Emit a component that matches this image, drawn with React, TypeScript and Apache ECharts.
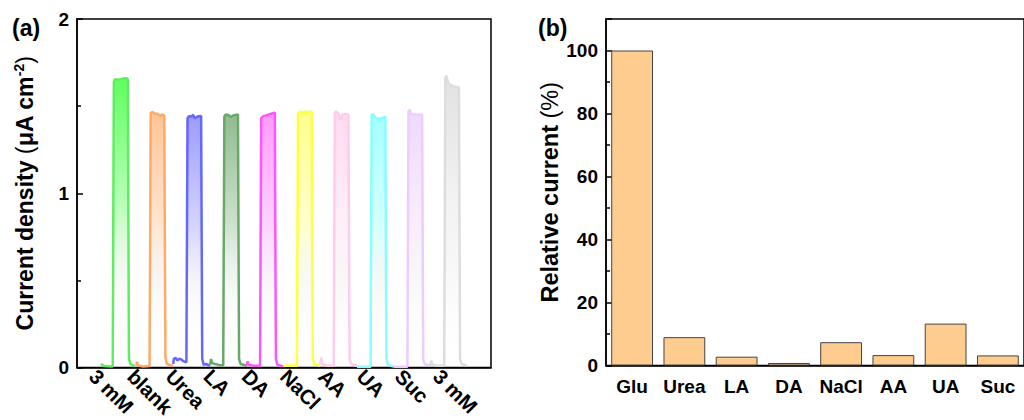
import React, { useEffect, useRef } from "react";
import * as echarts from "echarts";

const FONT = 'Arial, "Liberation Sans", Helvetica, sans-serif';

// Panel (a): amperometric traces, [time (s), current density (uA cm^-2)]
const traceNames = ["3 mM", "blank", "Urea", "LA", "DA", "NaCl", "AA", "UA", "Suc", "3 mM (2)"];
const traceLabels = ["3 mM", "blank", "Urea", "LA", "DA", "NaCl", "AA", "UA", "Suc", "3 mM"];
const traceLineColors = ["#5fee5f", "#ffaa66", "#6666ff", "#66aa66", "#ff55ff", "#ffff44", "#ffccec", "#88ffff", "#eeccff", "#dddddd"];
const traceFillColors = ["#11ff11", "#ffa860", "#6a6aff", "#5a9a5a", "#ff66ff", "#ffff55", "#ffc8ea", "#77ffff", "#e8c4ff", "#d4d4d4"];

const trace1 = [[64,0.015],[68,0.018],[72,0.008],[96,0.006],[97,0.01],[100,1.64],[104,1.655],[115,1.652],[125,1.658],[135,1.66],[138,1.655],[141,0.05],[145,0.02],[157,0.008]];
const trace2 = [[161,0.01],[163,0.033],[166,0.012],[180,0.006],[197,0.008],[200,1.46],[204,1.466],[212,1.458],[220,1.455],[226,1.44],[230,1.452],[237,1.445],[240,0.06],[244,0.02],[261,0.008]];
const trace3 = [[261,0.02],[263,0.05],[268,0.056],[272,0.04],[278,0.05],[284,0.045],[290,0.035],[297,0.03],[300,1.43],[304,1.442],[310,1.44],[315,1.45],[320,1.43],[327,1.44],[337,1.443],[340,0.05],[344,0.015],[350,0.02],[361,0.01]];
const trace4 = [[361,0.012],[364,0.049],[367,0.025],[375,0.02],[385,0.015],[397,0.012],[400,1.44],[404,1.452],[412,1.448],[418,1.437],[424,1.447],[437,1.452],[440,0.05],[444,0.02],[461,0.01]];
const trace5 = [[461,0.012],[463,0.035],[466,0.015],[480,0.01],[497,0.01],[500,1.43],[504,1.44],[515,1.448],[525,1.455],[537,1.463],[540,0.05],[544,0.015],[560,0.008]];
const trace6 = [[560,0.008],[575,0.012],[597,0.01],[600,1.46],[605,1.47],[612,1.462],[620,1.468],[630,1.465],[637,1.47],[640,0.05],[644,0.02],[660,0.01]];
const trace7 = [[660,0.015],[663,0.056],[666,0.02],[680,0.01],[697,0.01],[700,1.46],[704,1.47],[710,1.455],[716,1.42],[720,1.45],[730,1.455],[737,1.45],[740,0.05],[744,0.02],[760,0.01]];
const trace8 = [[760,0.005],[780,0.005],[797,0.005],[800,1.45],[804,1.455],[810,1.435],[818,1.425],[826,1.43],[837,1.44],[840,0.05],[844,0.015],[859,0.005]];
const trace9 = [[859,0.005],[880,0.005],[897,0.005],[900,1.47],[903,1.48],[907,1.455],[920,1.452],[937,1.45],[940,0.05],[944,0.02],[959,0.01]];
const trace10 = [[959,0.01],[962,0.04],[965,0.015],[980,0.01],[997,0.01],[1000,1.66],[1003,1.674],[1008,1.63],[1020,1.615],[1037,1.605],[1040,0.05],[1044,0.02],[1059,0.01]];
const traces = [trace1, trace2, trace3, trace4, trace5, trace6, trace7, trace8, trace9, trace10];

// Panel (b): relative current (%)
const barCategories = ["Glu", "Urea", "LA", "DA", "NaCl", "AA", "UA", "Suc"];
const barValues = [100, 9.0, 2.8, 0.8, 7.4, 3.3, 13.3, 3.2];

function hexToRgba(hex: string, a: number) {
  const n = parseInt(hex.slice(1), 16);
  return `rgba(${(n >> 16) & 255},${(n >> 8) & 255},${n & 255},${a})`;
}

export default function App() {
  const ref = useRef<HTMLDivElement>(null);
  useEffect(() => {
    if (!ref.current) return;
    const chart = echarts.init(ref.current, null, { renderer: "svg" });
    const axisLine = { show: true, lineStyle: { color: "#000", width: 1.5 } };
    const tickLabel = { color: "#000", fontSize: 19, fontWeight: "bold" as const, fontFamily: FONT };

    const lineSeries = traces.map((d, i) => ({
      type: "line",
      name: traceNames[i],
      xAxisIndex: 0,
      yAxisIndex: 0,
      data: d,
      showSymbol: false,
      symbol: "none",
      lineStyle: { color: traceLineColors[i], width: 2.5 },
      areaStyle: {
        origin: "start",
        color: new echarts.graphic.LinearGradient(0, 0, 0, 1, [
          { offset: 0, color: hexToRgba(traceFillColors[i], 0.95) },
          { offset: 0.45, color: hexToRgba(traceFillColors[i], 0.4) },
          { offset: 0.72, color: "rgba(200,200,200,0.14)" },
          { offset: 1, color: "rgba(255,255,255,0)" },
        ]),
      },
      z: 3,
    }));

    chart.setOption({
      animation: false,
      backgroundColor: "#fff",
      grid: [
        { left: 77, top: 19, width: 414, height: 348.5, show: true, borderColor: "#000", borderWidth: 1.5, containLabel: false },
        { left: 606, top: 19, width: 427, height: 346.5, show: true, borderColor: "#000", borderWidth: 1.5, containLabel: false },
        { left: 93, top: 19, width: 344, height: 348.5, show: false, containLabel: false },
      ],
      xAxis: [
        {
          type: "value", gridIndex: 0, min: 0, max: 1124,
          axisLine, axisTick: { show: false }, axisLabel: { show: false }, splitLine: { show: false },
        },
        {
          type: "category", gridIndex: 1, data: barCategories, boundaryGap: true,
          axisLine, axisTick: { show: false }, splitLine: { show: false },
          axisLabel: { ...tickLabel, margin: 11, interval: 0 },
        },
        {
          type: "category", gridIndex: 2, data: traceLabels, boundaryGap: false,
          axisLine: { show: false }, axisTick: { show: false }, splitLine: { show: false },
          axisLabel: { ...tickLabel, fontSize: 20.5, rotate: -45, margin: 13, interval: 0 },
        },
      ],
      yAxis: [
        {
          type: "value", gridIndex: 0, min: 0, max: 2, interval: 1,
          axisLine, splitLine: { show: false },
          axisTick: { show: true, inside: true, length: 6, lineStyle: { color: "#000", width: 1.5 } },
          minorTick: { show: true, splitNumber: 2, length: 4, lineStyle: { color: "#000", width: 1.5 } },
          axisLabel: { ...tickLabel, margin: 8 },
          name: "Current density {p|(}μA cm{sup|-2}{p|)}",
          nameLocation: "middle",
          nameGap: 40,
          nameRotate: 90,
          nameTextStyle: {
            color: "#000", fontSize: 23, fontWeight: "bold", fontFamily: FONT,
            rich: {
              sup: { fontSize: 14, fontWeight: "bold", fontFamily: FONT, color: "#000", padding: [0, 0, 11, 0] },
              p: { fontSize: 23, fontWeight: "normal", fontFamily: FONT, color: "#000" },
            },
          },
        },
        {
          type: "value", gridIndex: 1, min: 0, max: 110, interval: 20,
          axisLine, splitLine: { show: false },
          axisTick: { show: true, inside: true, length: 6, lineStyle: { color: "#000", width: 1.5 } },
          minorTick: { show: true, splitNumber: 2, length: 4, lineStyle: { color: "#000", width: 1.5 } },
          axisLabel: { ...tickLabel, margin: 8, showMaxLabel: false },
          name: "Relative current {p|(%)}",
          nameLocation: "middle",
          nameGap: 44,
          nameRotate: 90,
          nameTextStyle: {
            color: "#000", fontSize: 23.5, fontWeight: "bold", fontFamily: FONT,
            rich: { p: { fontSize: 23.5, fontWeight: "normal", fontFamily: FONT, color: "#000" } },
          },
        },
        { type: "value", gridIndex: 2, show: false, min: 0, max: 1 },
      ],
      graphic: [
        { type: "text", left: 12, top: 16, style: { text: "(a)", fontSize: 23, fontWeight: "bold", fontFamily: FONT, fill: "#000" } },
        { type: "text", left: 538, top: 16, style: { text: "(b)", fontSize: 23, fontWeight: "bold", fontFamily: FONT, fill: "#000" } },
      ],
      series: [
        ...lineSeries,
        {
          type: "bar",
          name: "Relative current",
          xAxisIndex: 1,
          yAxisIndex: 1,
          data: barValues,
          barCategoryGap: "20%",
          itemStyle: { color: "#FFCC8F", borderColor: "#444", borderWidth: 1 },
        },
      ],
    });
    return () => chart.dispose();
  }, []);
  return (
    <div
      ref={ref}
      style={{ position: "fixed", left: 0, top: 0, width: 1024, height: 420, background: "#fff" }}
    />
  );
}
